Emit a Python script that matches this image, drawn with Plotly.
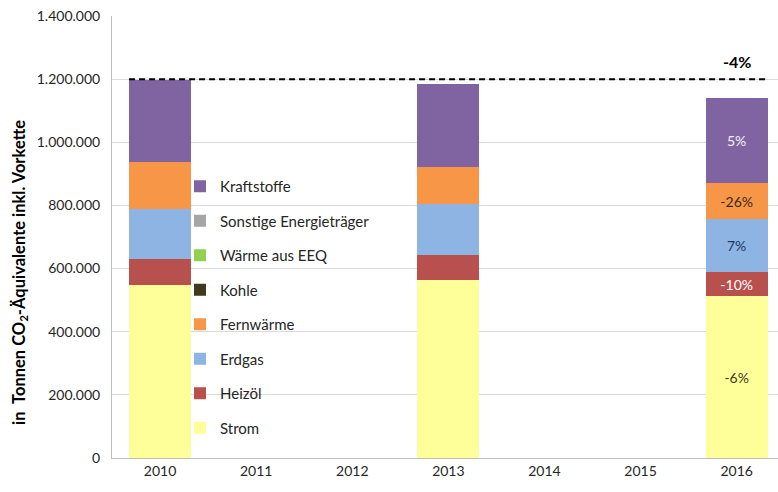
import plotly.graph_objects as go

years = ["2010", "2011", "2012", "2013", "2014", "2015", "2016"]
series_names = ["Strom", "Heizöl", "Erdgas", "Fernwärme", "Kohle",
                "Wärme aus EEQ", "Sonstige Energieträger", "Kraftstoffe"]
strom = [548000, None, None, 564000, None, None, 513000]
heizoel = [82000, None, None, 79000, None, None, 76000]
erdgas = [159000, None, None, 161000, None, None, 168000]
fernwaerme = [148000, None, None, 118000, None, None, 114000]
kohle = [0, None, None, 0, None, None, 0]
waerme_eeq = [0, None, None, 0, None, None, 0]
sonstige = [0, None, None, 0, None, None, 0]
kraftstoffe = [260000, None, None, 262000, None, None, 269000]
labels_2016 = {"Strom": "-6%", "Heizöl": "-10%", "Erdgas": "7%",
               "Fernwärme": "-26%", "Kraftstoffe": "5%"}
reference_total = 1200000
total_change = "-4%"

values = [strom, heizoel, erdgas, fernwaerme, kohle, waerme_eeq, sonstige, kraftstoffe]
colors = ["#FFFF99", "#B8504D", "#8DB4E2", "#F79646", "#3F3A1E",
          "#92D050", "#A5A5A5", "#8064A2"]
text_colors = {"Strom": "#3A3A1A", "Heizöl": "#FFFFFF", "Erdgas": "#1F3864",
               "Fernwärme": "#3A2A1A", "Kraftstoffe": "#F2F2F2"}

FONT = "Lato"
fig = go.Figure()
n = len(series_names)
for i, (name, vals, col) in enumerate(zip(series_names, values, colors)):
    txt = ["" for _ in years]
    if name in labels_2016:
        txt[-1] = labels_2016[name]
    fig.add_trace(go.Bar(
        x=years, y=vals, name=name, marker=dict(color=col, line=dict(width=0)),
        width=0.645, text=txt, textposition="inside", textangle=0,
        insidetextanchor="middle",
        textfont=dict(family=FONT, size=14, color=text_colors.get(name, "#000")),
        legendgroup=name, legendrank=(n - i) * 10, cliponaxis=False,
    ))

# white background behind the legend (covers gridlines, not bars)
fig.add_shape(type="rect", xref="paper", yref="paper", layer="between",
              x0=(197 - 112) / 666, x1=(372 - 112) / 666,
              y0=(458 - 448) / 442, y1=(458 - 172) / 442,
              fillcolor="white", line=dict(width=0))

fig.add_shape(type="line", xref="x", yref="y",
              x0=-0.3225, x1=6.3225, y0=reference_total, y1=reference_total,
              line=dict(color="#000000", width=2, dash="6px,4px"))
fig.add_annotation(x=6, y=reference_total, xref="x", yref="y", text="<b>" + total_change + "</b>",
                   showarrow=False, yshift=18, font=dict(family=FONT, size=16, color="#000"))
fig.add_annotation(xref="paper", yref="paper", x=(20 - 112) / 666, y=(458 - 273) / 442,
                   xanchor="center", yanchor="middle", textangle=-90, showarrow=False,
                   text="<b>in  Tonnen CO<sub>2</sub>-Äquivalente inkl. Vorkette</b>",
                   font=dict(family=FONT, size=16.5, color="#000"))

fig.update_layout(
    width=778, height=492,
    margin=dict(l=112, r=0, t=16, b=34, autoexpand=False),
    paper_bgcolor="white", plot_bgcolor="white",
    barmode="stack", separators=",.",
    font=dict(family=FONT, size=14, color="#404040"),
    showlegend=True,
    legend=dict(x=(180 - 112) / 666, y=(458 - 170) / 442, xanchor="left", yanchor="top",
                traceorder="grouped", tracegroupgap=12,
                bgcolor="rgba(0,0,0,0)", font=dict(family=FONT, size=15, color="#262626"),
                itemwidth=30),
    xaxis=dict(type="category", range=[-0.5, 6.43], showgrid=False,
               showline=True, linecolor="#BFBFBF", linewidth=1,
               tickfont=dict(family=FONT, size=14, color="#262626"),
               ticks="", ticklabelstandoff=0),
    yaxis=dict(range=[0, 1400000], dtick=200000, tickformat=",d",
               showgrid=True, gridcolor="#D9D9D9", gridwidth=1,
               showline=True, linecolor="#BFBFBF", linewidth=1,
               zeroline=False, ticks="", ticklabelstandoff=8,
               tickfont=dict(family=FONT, size=14, color="#262626")),
)
fig.write_html("out.html", config={"displayModeBar": False},
               post_script="document.body.style.margin='0';")
